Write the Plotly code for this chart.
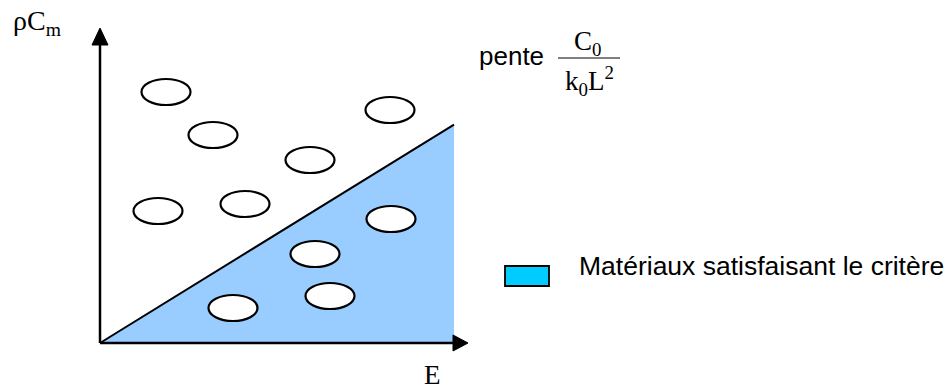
import numpy as np
import plotly.graph_objects as go

# --- data (schematic units: E along x, rhoCm along y, origin at axis crossing) ---
material_E = [66, 113, 290, 210, 58, 145, 291, 215, 133, 230]
material_rhoC = [251, 208, 233, 183, 132, 139, 124, 89, 35, 47]
slope_E_max = 354
slope_value = 0.617
x_label = "E"
y_label = "ρC<sub>m</sub>"
slope_text = "pente"
legend_text = "Matériaux satisfaisant le critère"

ELL_W, ELL_H = 49, 26
X_MIN, X_MAX = -100, 848
Y_MIN, Y_MAX = -49, 343

fig = go.Figure()

# shaded region under the criterion line
fig.add_trace(go.Scatter(
    x=[0, slope_E_max, slope_E_max, 0],
    y=[0, slope_E_max * slope_value, 0, 0],
    fill="toself", fillcolor="#99CCFF", mode="lines",
    line=dict(color="rgba(0,0,0,0)", width=0), hoverinfo="skip", showlegend=False))
# criterion line
fig.add_trace(go.Scatter(
    x=[0, slope_E_max], y=[0, slope_E_max * slope_value],
    mode="lines", line=dict(color="black", width=2), hoverinfo="skip", showlegend=False))

shapes = []
# ellipses (materials)
for e, r in zip(material_E, material_rhoC):
    shapes.append(dict(type="circle", xref="x", yref="y",
                       x0=e - ELL_W / 2, x1=e + ELL_W / 2,
                       y0=r - ELL_H / 2, y1=r + ELL_H / 2,
                       fillcolor="white", line=dict(color="black", width=2.2),
                       layer="above"))

# axes lines
shapes.append(dict(type="line", xref="x", yref="y", x0=0, y0=0, x1=0, y1=300,
                   line=dict(color="black", width=2.5), layer="above"))
shapes.append(dict(type="line", xref="x", yref="y", x0=0, y0=0, x1=355, y1=0,
                   line=dict(color="black", width=2.5), layer="above"))
# arrow heads
shapes.append(dict(type="path", xref="x", yref="y",
                   path="M -8,298 L 8,298 L 0,315 Z", fillcolor="black",
                   line=dict(color="black", width=1), layer="above"))
shapes.append(dict(type="path", xref="x", yref="y",
                   path="M 353,8 L 353,-8 L 368,0 Z", fillcolor="black",
                   line=dict(color="black", width=1), layer="above"))
# fraction bar
shapes.append(dict(type="line", xref="x", yref="y", x0=458, y0=285, x1=520, y1=285,
                   line=dict(color="black", width=1.2)))
# legend box
shapes.append(dict(type="rect", xref="x", yref="y", x0=405, x1=449, y0=57, y1=77,
                   fillcolor="#00CCFF", line=dict(color="black", width=1.8)))

serif = "Liberation Serif, Times New Roman, serif"
sans = "Liberation Sans, Arial, sans-serif"
annotations = [
    dict(x=-89, y=321, text=y_label, showarrow=False, xanchor="left", yanchor="middle",
         font=dict(family=serif, size=28, color="black")),
    dict(x=332, y=-32, text=x_label, showarrow=False, xanchor="center", yanchor="middle",
         font=dict(family=serif, size=27, color="black")),
    dict(x=377, y=287, text=slope_text, showarrow=False, xanchor="left", yanchor="middle",
         font=dict(family=sans, size=26, color="black")),
    dict(x=487, y=300, text="C<sub>0</sub>", showarrow=False, xanchor="center", yanchor="middle",
         font=dict(family=serif, size=27, color="black")),
    dict(x=489, y=262, text="k<sub>0</sub>L<sup>2</sup>", showarrow=False, xanchor="center",
         yanchor="middle", font=dict(family=serif, size=27, color="black")),
    dict(x=477, y=77, text=legend_text, showarrow=False, xanchor="left", yanchor="middle",
         font=dict(family=sans, size=26.5, color="black")),
]

fig.update_layout(
    width=948, height=392, margin=dict(l=0, r=0, t=0, b=0),
    paper_bgcolor="white", plot_bgcolor="white",
    xaxis=dict(range=[X_MIN, X_MAX], visible=False, fixedrange=True),
    yaxis=dict(range=[Y_MIN, Y_MAX], visible=False, fixedrange=True),
    shapes=shapes, annotations=annotations, showlegend=False,
)

fig.write_html("out.html", config={"displayModeBar": False},
               post_script="document.body.style.margin='0px';document.body.style.overflow='hidden';")
